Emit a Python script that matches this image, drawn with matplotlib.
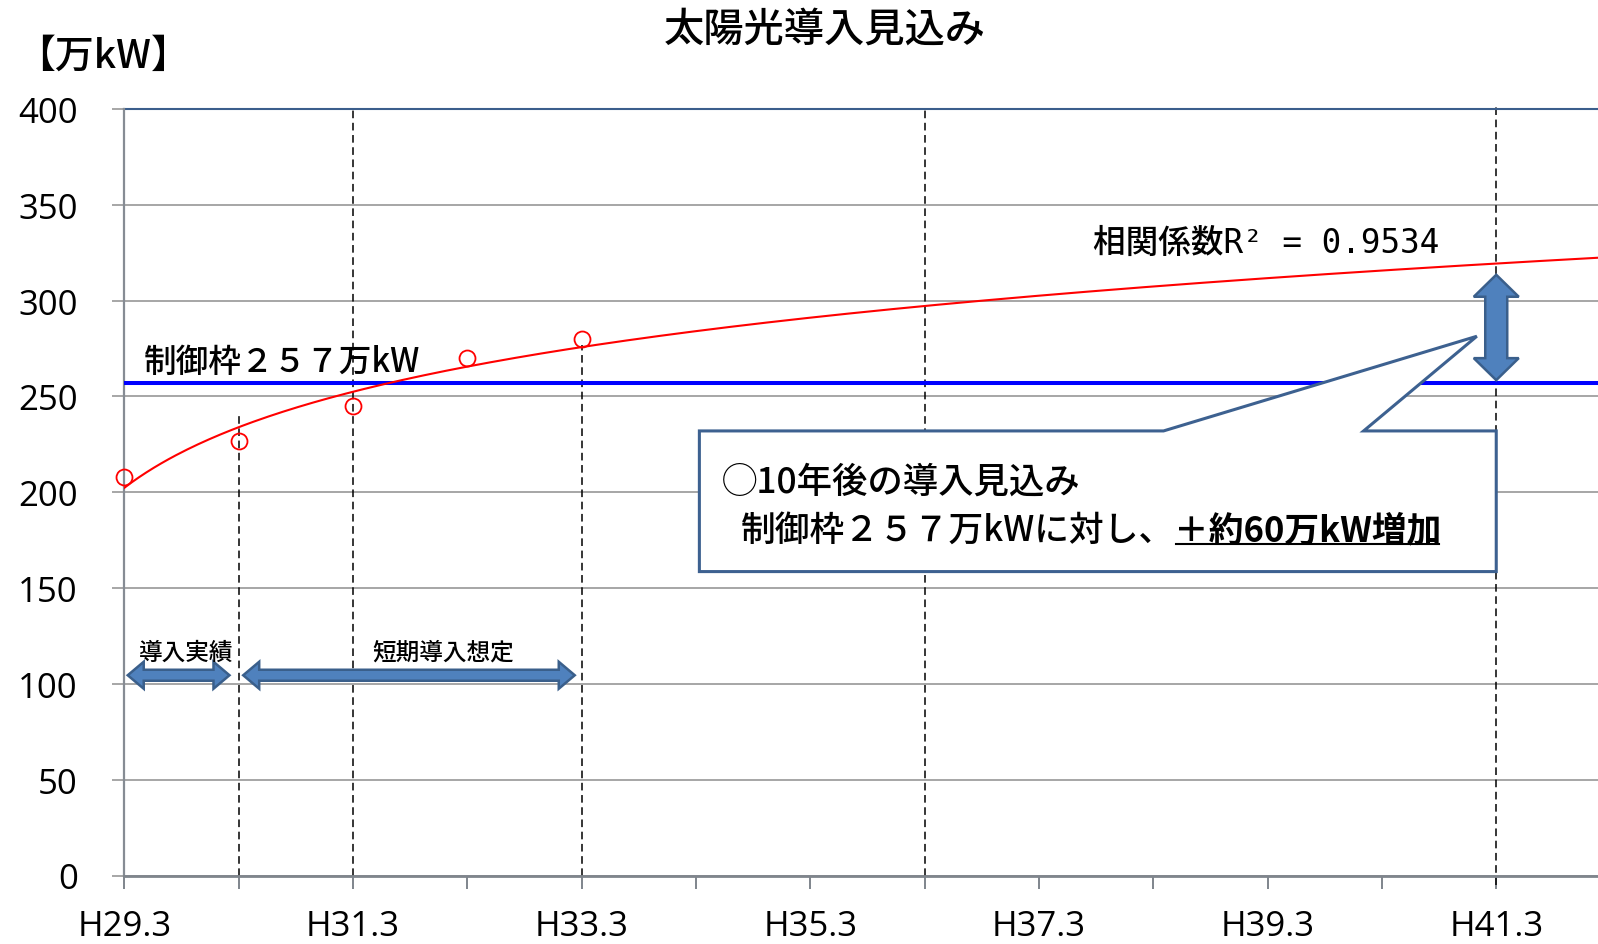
import numpy as np
import matplotlib
matplotlib.use("Agg")
import matplotlib.pyplot as plt
from matplotlib.patches import Polygon
from matplotlib.lines import Line2D

plt.rcParams['font.family'] = ['Noto Sans CJK JP', 'DejaVu Sans']

# 実績・短期想定の導入量（万kW）
periods = ["H29.3", "H30.3", "H31.3", "H32.3", "H33.3"]
installed = [208, 227, 245, 270, 280]
control_limit = 257

# 横軸（年度）と縦軸の目盛
year_labels = ["H29.3", "", "H31.3", "", "H33.3", "", "H35.3", "",
               "H37.3", "", "H39.3", "", "H41.3"]
y_ticks = [0, 50, 100, 150, 200, 250, 300, 350, 400]

# 区切りの破線（年度位置と上端）
guide_x = [1, 2, 4, 7, 12]
guide_top = [240, 400, 277, 400, 403]

W, H = 1598, 945
fig = plt.figure(figsize=(W / 100, H / 100), dpi=100)
ax = fig.add_axes([124.3 / W, 1 - 876.5 / H, 1 - 124.3 / W, (876.5 - 110) / H])
ax.set_xlim(0, 12.89)
ax.set_ylim(0, 400)

# 軸・目盛
ax.set_yticks(y_ticks)
ax.set_xticks(range(len(year_labels)))
ax.set_xticklabels(year_labels)
ax.grid(axis='y', color='#a6a6a6', lw=1.4, zorder=0)
ax.set_axisbelow(True)
for s in ('top', 'right'):
    ax.spines[s].set_visible(False)
ax.spines['left'].set_color('#868c94')
ax.spines['left'].set_linewidth(1.6)
ax.spines['bottom'].set_color('#7f858c')
ax.spines['bottom'].set_linewidth(2.0)
ax.tick_params(axis='y', direction='out', length=8.6, width=1.4,
               color='#a6a6a6', pad=25, labelsize=25)
ax.tick_params(axis='x', direction='out', length=9.4, width=1.4,
               color='#7f858c', pad=15, labelsize=25)
for lbl in ax.get_xticklabels() + ax.get_yticklabels():
    lbl.set_fontfamily(['Open Sans', 'DejaVu Sans'])
ax.axhline(400, color='#3b5e8c', lw=1.5, clip_on=False, zorder=2)

# 区切り破線
for gx, gt in zip(guide_x, guide_top):
    y0 = -5 if gx == 12 else 0
    ax.plot([gx, gx], [y0, gt], color='black', lw=1.1, ls=(0, (5, 3)),
            clip_on=False, zorder=1.5)

# 制御枠
ax.axhline(control_limit, color='#0000ff', lw=2.9, zorder=3)

# 対数近似曲線と実績点
x_pos = np.arange(len(installed))
idx = x_pos + 1
a, b = np.polyfit(np.log(idx), installed, 1)
xs = np.linspace(0, 12.89, 400)
ax.plot(xs, a * np.log(xs + 1) + b, color='#ff0000', lw=1.5, zorder=4)
ax.plot(x_pos, installed, 'o', mfc='none', mec='#ff0000', ms=11.5, mew=1.3,
        clip_on=False, zorder=5)

# 吹き出し
callout = [(5.03, 232), (9.09, 232), (11.83, 281.4), (10.84, 232),
           (12.0, 232), (12.0, 158.6), (5.03, 158.6)]
ax.add_patch(Polygon(callout, closed=True, fc='white', ec='#3d6190', lw=2.2,
                     joinstyle='miter', zorder=6))


def double_arrow(p0, p1, shaft, head_w, head_len, **kw):
    P0 = ax.transData.transform(p0)
    P1 = ax.transData.transform(p1)
    d = P1 - P0
    u = d / np.hypot(*d)
    n = np.array([-u[1], u[0]])
    hs, hh = shaft / 2, head_w / 2
    pts = [P0,
           P0 + u * head_len + n * hh, P0 + u * head_len + n * hs,
           P1 - u * head_len + n * hs, P1 - u * head_len + n * hh,
           P1,
           P1 - u * head_len - n * hh, P1 - u * head_len - n * hs,
           P0 + u * head_len - n * hs, P0 + u * head_len - n * hh]
    data = ax.transData.inverted().transform(pts)
    ax.add_patch(Polygon(data, closed=True, **kw))


arrow_style = dict(fc='#4f81bd', ec='#3a5f8b', lw=1.8, joinstyle='miter',
                   zorder=8, clip_on=False)
double_arrow((0.03, 104.5), (0.92, 104.5), 11, 27, 16, **arrow_style)
double_arrow((1.04, 104.5), (3.94, 104.5), 11, 27, 16, **arrow_style)
double_arrow((12.0, 258.5), (12.0, 313.5), 22, 45, 22, **arrow_style)

# 文字
txt = dict(fontweight='medium', zorder=9)
ax.text(0.54, 116.5, "導入実績", ha='center', va='center', fontsize=17, **txt)
ax.text(2.79, 116.5, "短期導入想定", ha='center', va='center', fontsize=17, **txt)
ax.text(0.17, 268, "制御枠２５７万kW", ha='left', va='center', fontsize=23.5,
        **txt)
ax.text(8.47, 330.2, "相関係数R² = 0.9534", ha='left', va='center',
        fontsize=23.5, family=['DejaVu Sans Mono', 'Noto Sans CJK JP'], **txt)

ax.text(5.23, 205.5, "◯10年後の導入見込み", ha='left', va='center',
        fontsize=25.5, **txt)
t1 = ax.text(5.39, 180.4, "制御枠２５７万kWに対し、", ha='left', va='center',
             fontsize=25, **txt)
t2 = ax.annotate("＋約60万kW増加", xy=(1, 0.5), xycoords=t1, ha='left',
                 va='center', fontsize=25, fontweight='bold', zorder=9)

fig.text(825 / W, 1 - 30.5 / H, "太陽光導入見込み", ha='center', va='center',
         fontsize=29, fontweight='medium')
fig.text(16 / W, 1 - 57 / H, "【万kW】", ha='left', va='center', fontsize=28,
         fontweight='medium')

# 強調部分の下線
fig.canvas.draw()
bb = t2.get_window_extent()
yc = (bb.y0 + bb.y1) / 2 - 14
fig.add_artist(Line2D([bb.x0 + 2, bb.x1 - 2], [yc, yc], transform=None,
                      color='black', lw=1.5, zorder=10))

fig.savefig("out.png", dpi=100)
